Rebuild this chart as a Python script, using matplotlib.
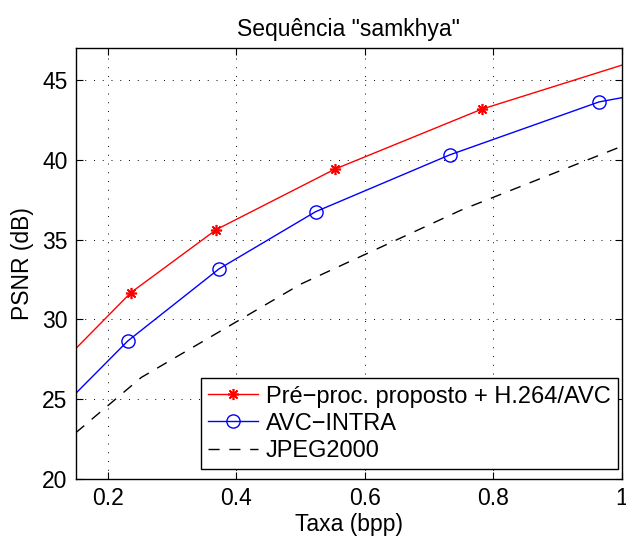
import matplotlib
matplotlib.use("Agg")
import matplotlib.pyplot as plt

plt.rcParams['font.family'] = ['Liberation Sans', 'DejaVu Sans']

# Data
x_prop = [0.15, 0.236, 0.369, 0.554, 0.782, 1.0]
y_prop = [28.16, 31.68, 35.63, 39.43, 43.18, 45.94]

x_avc = [0.15, 0.231, 0.373, 0.5235, 0.732, 0.965, 1.0]
y_avc = [25.35, 28.64, 33.16, 36.75, 40.31, 43.64, 43.9]

x_jp = [0.15, 0.252, 0.5, 0.75, 1.0]
y_jp = [22.88, 26.35, 32.2, 36.85, 40.85]

labels = ['Pré\u2212proc. proposto + H.264/AVC', 'AVC\u2212INTRA', 'JPEG2000']
xticks = [0.2, 0.4, 0.6, 0.8, 1.0]
xticklabels = ['0.2', '0.4', '0.6', '0.8', '1']
yticks = [20, 25, 30, 35, 40, 45]

fig = plt.figure(figsize=(6.26, 5.37), dpi=100)
ax = fig.add_axes([0.121, 0.1086, 0.872, 0.8014])

ax.plot(x_prop, y_prop, color='#ff0000', lw=1.0, marker=(8, 2, 0), ms=8,
        mew=1.2, markevery=list(range(1, len(x_prop) - 1)), label=labels[0])
ax.plot(x_avc, y_avc, color='#0000ff', lw=1.0, marker='o', ms=9.5, mfc='none',
        mew=1.0, markevery=list(range(1, len(x_avc) - 1)), label=labels[1])
ax.plot(x_jp, y_jp, color='black', lw=1.0, ls=(0, (8, 7)), label=labels[2])

ax.set_xlim(0.15, 1.0)
ax.set_ylim(20, 47)
ax.set_xticks(xticks)
ax.set_xticklabels(xticklabels)
ax.set_yticks(yticks)
ax.grid(True, color='black', ls=(0, (1, 8)), lw=0.7)
ax.tick_params(direction='in', length=5, width=0.8, top=True, right=True,
               labelsize=16.5, pad=6)
for s in ax.spines.values():
    s.set_linewidth(1.0)

ax.set_xlabel('Taxa (bpp)', fontsize=16.5, labelpad=2)
ax.set_ylabel('PSNR (dB)', fontsize=16.5, labelpad=6)
ax.set_title('Sequência "samkhya"', fontsize=16.5, pad=9)

leg = ax.legend(loc='lower right', bbox_to_anchor=(0.993, 0.0225),
                fontsize=17, frameon=True, fancybox=False,
                edgecolor='black', framealpha=1, borderpad=0.3,
                labelspacing=0.22, handlelength=2.1, handletextpad=0.35,
                borderaxespad=0.0)
leg.get_frame().set_linewidth(1.0)

fig.savefig('out.png', dpi=100)
